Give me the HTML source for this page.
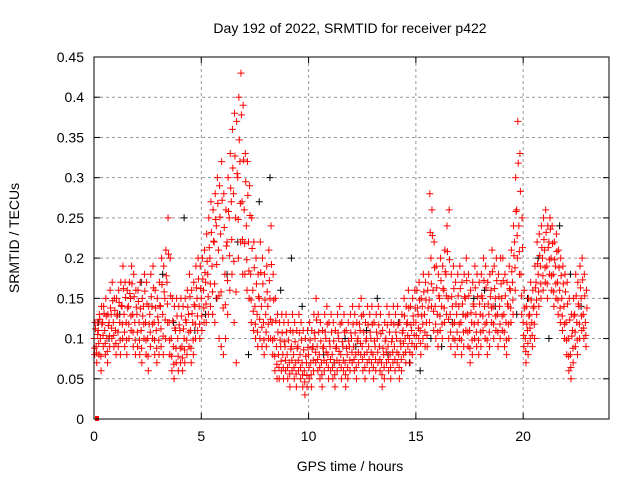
<!DOCTYPE html>
<html><head><meta charset="utf-8"><style>
body{margin:0;background:#fff}
svg{display:block;font-family:"Liberation Sans",sans-serif}
</style></head><body>
<svg id="chart" width="640" height="480" viewBox="0 0 640 480">
<rect width="640" height="480" fill="#fff"/>
<text x="350" y="33" font-size="14" text-anchor="middle">Day 192 of 2022, SRMTID for receiver p422</text>
<text x="350" y="471" font-size="14" text-anchor="middle">GPS time / hours</text>
<text transform="translate(19,238) rotate(-90)" font-size="14" text-anchor="middle">SRMTID / TECUs</text>
<g id="grid"></g>
<g id="ticks"></g>
<g id="marks"></g>
<rect x="94" y="57" width="515" height="362" fill="none" stroke="#000" stroke-width="1"/>
</svg>
<script>
const xTicks=[0,5,10,15,20];
const yTicks=[0,0.05,0.1,0.15,0.2,0.25,0.3,0.35,0.4,0.45];
const yTickLabels=["0","0.05","0.1","0.15","0.2","0.25","0.3","0.35","0.4","0.45"];
const sampleStep=0.1;
const midVals=[.10,.09,.11,.10,.12,.11,.10,.12,.13,.12,.11,.13,.12,.14,.13,.12,.14,.15,.13,.12,.13,.12,.11,.14,.12,.10,.13,.14,.12,.11,.12,.14,.13,.15,.17,.12,.10,.09,.11,.10,.11,.09,.10,.12,.13,.11,.12,.14,.15,.14,.15,.16,.17,.18,.20,.19,.22,.24,.21,.23,.20,.18,.22,.25,.27,.28,.25,.30,.32,.27,.26,.24,.22,.18,.16,.14,.13,.15,.14,.12,.13,.14,.15,.12,.10,.09,.08,.09,.08,.09,.08,.07,.09,.08,.07,.09,.08,.07,.06,.07,.08,.07,.09,.10,.09,.08,.07,.09,.10,.08,.09,.08,.07,.09,.10,.08,.09,.07,.08,.09,.10,.09,.08,.10,.11,.09,.08,.10,.09,.10,.08,.09,.10,.09,.07,.08,.10,.09,.08,.10,.09,.10,.08,.09,.11,.10,.12,.10,.11,.12,.12,.13,.11,.14,.13,.12,.18,.20,.16,.14,.13,.15,.14,.16,.18,.15,.13,.14,.12,.13,.14,.12,.13,.15,.13,.11,.12,.14,.13,.12,.13,.15,.14,.12,.13,.16,.14,.15,.13,.14,.15,.13,.12,.14,.16,.17,.22,.26,.24,.18,.12,.10,.11,.13,.12,.14,.17,.18,.19,.20,.21,.19,.22,.20,.18,.19,.17,.16,.15,.14,.12,.10,.08,.11,.13,.12,.14,.15,.13,.12];
const hiVals=[.12,.12,.13,.14,.14,.15,.13,.16,.17,.15,.15,.16,.17,.19,.17,.16,.17,.19,.18,.16,.16,.17,.15,.18,.17,.14,.18,.19,.16,.15,.17,.20,.19,.21,.25,.20,.15,.14,.15,.14,.15,.14,.15,.16,.18,.16,.17,.19,.20,.19,.20,.21,.23,.25,.27,.26,.28,.30,.29,.32,.28,.26,.30,.33,.36,.38,.37,.40,.43,.39,.33,.32,.29,.25,.22,.20,.18,.22,.20,.18,.19,.21,.24,.18,.15,.13,.12,.13,.12,.13,.12,.11,.13,.12,.11,.13,.12,.11,.10,.11,.12,.11,.13,.15,.13,.12,.11,.13,.14,.12,.13,.12,.11,.13,.14,.12,.13,.11,.12,.13,.14,.13,.12,.14,.15,.13,.12,.14,.13,.14,.12,.13,.14,.13,.11,.12,.14,.13,.12,.14,.13,.14,.12,.13,.15,.14,.16,.14,.15,.16,.16,.17,.15,.18,.17,.16,.28,.26,.22,.19,.18,.20,.19,.21,.24,.26,.18,.19,.17,.18,.19,.17,.18,.20,.18,.16,.17,.19,.18,.17,.18,.20,.19,.17,.18,.21,.19,.20,.18,.20,.20,.18,.17,.19,.21,.24,.30,.37,.33,.25,.16,.14,.15,.17,.16,.19,.22,.23,.24,.25,.26,.24,.25,.24,.22,.23,.21,.20,.19,.18,.17,.15,.13,.15,.18,.17,.19,.20,.18,.16];
const loVals=[.08,.07,.08,.06,.09,.08,.07,.09,.10,.09,.08,.09,.08,.10,.09,.08,.10,.11,.09,.08,.09,.08,.07,.10,.08,.06,.09,.10,.08,.07,.08,.09,.08,.10,.12,.08,.06,.05,.07,.06,.07,.06,.07,.08,.09,.07,.08,.10,.11,.10,.11,.12,.12,.13,.14,.13,.12,.15,.10,.09,.08,.10,.13,.16,.18,.12,.07,.20,.22,.18,.18,.16,.15,.12,.11,.10,.09,.10,.09,.08,.09,.10,.10,.08,.06,.05,.05,.06,.05,.06,.05,.04,.06,.05,.04,.06,.05,.04,.03,.04,.05,.04,.06,.07,.06,.05,.04,.06,.07,.05,.06,.05,.04,.06,.07,.05,.06,.04,.05,.06,.07,.06,.05,.07,.08,.06,.05,.07,.06,.07,.05,.06,.07,.06,.04,.05,.07,.06,.05,.07,.06,.07,.05,.06,.08,.07,.09,.07,.08,.09,.09,.10,.08,.10,.09,.09,.12,.14,.11,.10,.09,.11,.10,.12,.13,.10,.09,.10,.08,.09,.10,.08,.09,.11,.09,.07,.08,.10,.09,.08,.09,.11,.10,.08,.09,.12,.10,.11,.09,.10,.11,.09,.08,.10,.12,.13,.16,.20,.18,.13,.09,.07,.08,.10,.09,.10,.13,.14,.15,.16,.17,.15,.18,.16,.14,.15,.13,.12,.11,.10,.08,.06,.05,.07,.09,.08,.10,.11,.10,.09];
const upperVals=[.112,.105,.124,.118,.131,.128,.116,.138,.147,.135,.128,.145,.141,.162,.151,.138,.156,.168,.152,.139,.146,.137,.128,.159,.143,.118,.152,.163,.138,.127,.141,.167,.158,.178,.205,.153,.122,.113,.128,.117,.128,.112,.123,.139,.152,.131,.142,.163,.174,.162,.174,.182,.196,.213,.232,.221,.248,.268,.251,.272,.238,.215,.258,.287,.312,.327,.305,.347,.378,.322,.295,.278,.253,.212,.188,.168,.152,.182,.168,.148,.158,.172,.192,.148,.122,.108,.098,.107,.096,.108,.098,.087,.108,.096,.088,.107,.098,.086,.078,.089,.098,.087,.107,.123,.108,.097,.088,.108,.118,.097,.108,.097,.088,.107,.118,.096,.108,.088,.097,.107,.118,.107,.097,.118,.128,.108,.097,.117,.108,.118,.097,.108,.117,.106,.088,.097,.117,.108,.096,.118,.108,.117,.097,.107,.128,.118,.138,.117,.128,.138,.138,.148,.128,.158,.148,.138,.232,.228,.188,.163,.153,.172,.162,.183,.208,.198,.152,.162,.143,.153,.162,.143,.152,.172,.153,.132,.143,.163,.152,.143,.153,.172,.163,.143,.152,.183,.162,.172,.152,.168,.172,.153,.143,.162,.183,.203,.258,.318,.283,.213,.138,.118,.128,.148,.138,.163,.193,.203,.213,.223,.232,.213,.236,.218,.198,.208,.188,.178,.168,.158,.143,.123,.103,.128,.153,.143,.163,.173,.153,.138];
const lowerVals=[.088,.082,.094,.078,.104,.094,.084,.103,.113,.104,.094,.108,.098,.118,.108,.098,.118,.128,.108,.098,.108,.098,.088,.118,.098,.078,.108,.118,.098,.088,.098,.112,.103,.123,.143,.098,.078,.068,.088,.078,.088,.076,.086,.098,.108,.088,.098,.118,.128,.118,.128,.138,.143,.152,.168,.158,.168,.192,.153,.158,.138,.142,.172,.203,.223,.196,.158,.248,.268,.223,.218,.198,.184,.148,.134,.118,.108,.124,.114,.098,.108,.118,.124,.098,.078,.068,.064,.072,.064,.073,.064,.056,.073,.064,.056,.073,.064,.055,.046,.054,.064,.055,.073,.083,.074,.064,.055,.073,.083,.064,.074,.064,.055,.073,.084,.064,.073,.055,.064,.073,.083,.074,.064,.083,.094,.074,.064,.083,.074,.083,.064,.074,.083,.074,.055,.064,.083,.074,.064,.083,.074,.083,.064,.074,.094,.083,.104,.083,.094,.104,.104,.113,.094,.118,.108,.104,.148,.168,.134,.118,.108,.128,.118,.138,.153,.124,.108,.118,.098,.108,.118,.098,.108,.128,.108,.088,.098,.118,.108,.098,.108,.128,.118,.098,.108,.138,.118,.128,.108,.118,.128,.108,.098,.118,.138,.148,.188,.228,.208,.153,.104,.084,.094,.113,.104,.118,.148,.158,.168,.178,.188,.168,.198,.178,.158,.168,.148,.138,.128,.118,.098,.078,.064,.088,.108,.098,.118,.128,.113,.104];
const blackStep=0.5;
const blackVals=[.12,.10,.13,.15,.17,.14,.18,.12,.25,.11,.13,.15,.18,.22,.08,.27,.30,.16,.20,.14,.09,.08,.07,.10,.09,.11,.15,.08,.12,.07,.06,.10,.09,.12,.13,.15,.16,.14,.12,.13,.15,.20,.10,.24,.18,.14];
const X=t=>94+t*(515/24), Y=v=>419-v*(362/0.45);
const NS="http://www.w3.org/2000/svg";
const grid=document.getElementById('grid'),ticks=document.getElementById('ticks'),marks=document.getElementById('marks');
function mk(tag,attrs,parent){const e=document.createElementNS(NS,tag);for(const k in attrs)e.setAttribute(k,attrs[k]);parent.appendChild(e);return e;}
xTicks.forEach(t=>{
 if(t>0){const g=mk('line',{x1:X(t),x2:X(t),y1:57,y2:419,stroke:'#999','stroke-dasharray':'3,3'},grid);
 
 }
 mk('line',{x1:X(t),x2:X(t),y1:419,y2:413,stroke:'#000'},ticks);
 mk('line',{x1:X(t),x2:X(t),y1:57,y2:63,stroke:'#000'},ticks);
 const l=mk('text',{x:X(t),y:441,'font-size':14,'text-anchor':'middle'},ticks);l.textContent=t;
 
 
});
yTicks.forEach((v,i)=>{
 if(v>0&&v<0.45){const g=mk('line',{x1:94,x2:609,y1:Y(v),y2:Y(v),stroke:'#999','stroke-dasharray':'3,3'},grid);
 
 }
 mk('line',{x1:94,x2:100,y1:Y(v),y2:Y(v),stroke:'#000'},ticks);
 mk('line',{x1:609,x2:603,y1:Y(v),y2:Y(v),stroke:'#000'},ticks);
 const l=mk('text',{x:84,y:Y(v)+5,'font-size':14,'text-anchor':'end'},ticks);l.textContent=yTickLabels[i];
 
 
});
function plus(t,v,color,name){
 const p=mk('path',{d:`M${X(t)-3.5},${Y(v)}h7M${X(t)},${Y(v)-3.5}v7`,stroke:color,'stroke-width':1,fill:'none'},marks);
 
 
}
blackVals.forEach((v,i)=>plus(i*blackStep+0.2,v,'#000','black-point'));
midVals.forEach((v,i)=>plus(i*sampleStep,v,'#f00','red-point'));
hiVals.forEach((v,i)=>plus(i*sampleStep+0.05,v,'#f00','red-point-high'));
loVals.forEach((v,i)=>plus(i*sampleStep+0.03,v,'#f00','red-point-low'));
upperVals.forEach((v,i)=>plus(i*sampleStep+0.07,v,'#f00','red-point-upper'));
lowerVals.forEach((v,i)=>plus(i*sampleStep+0.02,v,'#f00','red-point-lower'));
const sq=mk('rect',{x:X(0)+1,y:Y(0)-3,width:4,height:5,fill:'#f00'},marks);


</script>
</body></html>
